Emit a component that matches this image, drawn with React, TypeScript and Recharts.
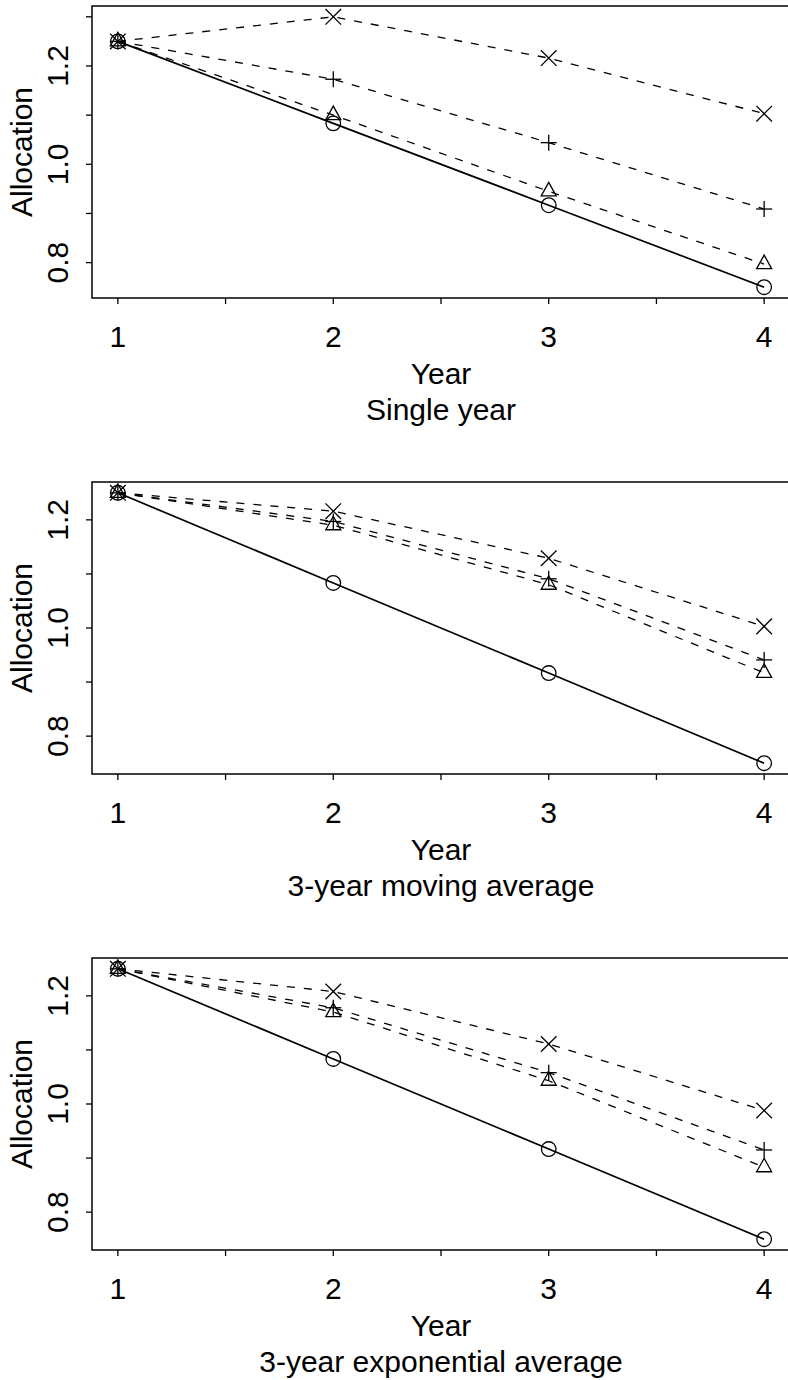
import React from 'react';
import { LineChart, Line, XAxis, YAxis, ReferenceArea } from 'recharts';

// ---- data ----
const years = [1, 2, 3, 4];
const xTicks = [1, 1.5, 2, 2.5, 3, 3.5, 4];
const xTickLabels = ['1', '2', '3', '4'];

const singleCircle = [1.25, 1.0833, 0.9167, 0.75];
const singleTriangle = [1.25, 1.1, 0.945, 0.797];
const singlePlus = [1.25, 1.173, 1.044, 0.909];
const singleCross = [1.25, 1.3, 1.216, 1.103];

const movingCircle = [1.25, 1.0833, 0.9167, 0.75];
const movingTriangle = [1.25, 1.19, 1.08, 0.917];
const movingPlus = [1.25, 1.197, 1.091, 0.941];
const movingCross = [1.25, 1.216, 1.129, 1.003];

const expCircle = [1.25, 1.0833, 0.9167, 0.75];
const expTriangle = [1.25, 1.17, 1.043, 0.883];
const expPlus = [1.25, 1.178, 1.058, 0.915];
const expCross = [1.25, 1.208, 1.111, 0.988];

const yTicksSingle = [0.8, 0.9, 1.0, 1.1, 1.2, 1.3];
const yTicksAvg = [0.8, 0.9, 1.0, 1.1, 1.2];
const yLabeled = ['0.8', '1.0', '1.2'];

const xTitle = 'Year';
const yTitle = 'Allocation';
const panelTitles = ['Single year', '3-year moving average', '3-year exponential average'];

// ---- layout / style ----
const FONT = '"Liberation Sans", Arial, Helvetica, sans-serif';
const CHART_W = 800;
const CHART_H = 476;
const PLOT_TOP = 6;
const PLOT_H = 292;
const PLOT_LEFT = 92;
const PLOT_RIGHT = 790;
const PLOT_BOTTOM = PLOT_TOP + PLOT_H;
const XAXIS_H = 40;
const YAXIS_W = 60;

const buildRows = (c: number[], t: number[], p: number[], x: number[]) =>
  years.map((yr, i) => ({ year: yr, circle: c[i], triangle: t[i], plus: p[i], cross: x[i] }));

const padRange = (vals: number[]): [number, number] => {
  const lo = Math.min(...vals);
  const hi = Math.max(...vals);
  const d = (hi - lo) * 0.04;
  return [lo - d, hi + d];
};

const SW = 1.3;

const Marker = ({ shape, cx, cy }: { shape: string; cx: number; cy: number }) => {
  if (cx == null || cy == null) return <g />;
  if (shape === 'circle') {
    return <circle cx={cx} cy={cy} r={7.3} fill="none" stroke="#000" strokeWidth={SW} />;
  }
  if (shape === 'triangle') {
    const pts = `${cx},${cy - 9} ${cx + 7.5},${cy + 4.5} ${cx - 7.5},${cy + 4.5}`;
    return <polygon points={pts} fill="none" stroke="#000" strokeWidth={SW} />;
  }
  if (shape === 'plus') {
    return (
      <g stroke="#000" strokeWidth={SW}>
        <line x1={cx - 8} y1={cy} x2={cx + 8} y2={cy} />
        <line x1={cx} y1={cy - 8} x2={cx} y2={cy + 8} />
      </g>
    );
  }
  return (
    <g stroke="#000" strokeWidth={SW}>
      <line x1={cx - 7.8} y1={cy - 7.8} x2={cx + 7.8} y2={cy + 7.8} />
      <line x1={cx - 7.8} y1={cy + 7.8} x2={cx + 7.8} y2={cy - 7.8} />
    </g>
  );
};

const makeDot = (shape: string) => (props: any) => (
  <g key={`${shape}-${props.index}`}>
    <Marker shape={shape} cx={props.cx} cy={props.cy} />
  </g>
);

const XTick = (props: any) => {
  const { x, payload } = props;
  const v = payload.value;
  const label = Number.isInteger(v) ? String(v) : '';
  if (!xTickLabels.includes(label)) return <g />;
  return (
    <text x={x} y={PLOT_BOTTOM + 49} textAnchor="middle" fontFamily={FONT} fontSize={30} fill="#000">
      {label}
    </text>
  );
};

const YTick = (props: any) => {
  const { y, payload } = props;
  const label = Number(payload.value).toFixed(1);
  if (!yLabeled.includes(label)) return <g />;
  const ax = 68;
  return (
    <text
      x={ax}
      y={y}
      transform={`rotate(-90, ${ax}, ${y})`}
      textAnchor="middle"
      fontFamily={FONT}
      fontSize={30}
      fill="#000"
    >
      {label}
    </text>
  );
};

const Panel = ({ rows, yTicks, title, top }: { rows: any[]; yTicks: number[]; title: string; top: number }) => {
  const allVals = rows.flatMap((r) => [r.circle, r.triangle, r.plus, r.cross]);
  const yDomain = padRange(allVals);
  const xDomain = padRange(years);
  const midX = (PLOT_LEFT + PLOT_RIGHT) / 2;
  const midY = PLOT_TOP + PLOT_H / 2;
  return (
    <div style={{ position: 'absolute', left: 0, top }}>
      <LineChart
        width={CHART_W}
        height={CHART_H}
        data={rows}
        margin={{ top: PLOT_TOP, right: CHART_W - PLOT_RIGHT, left: PLOT_LEFT - YAXIS_W, bottom: CHART_H - PLOT_BOTTOM - XAXIS_H }}
      >
        <XAxis
          dataKey="year"
          type="number"
          domain={xDomain}
          ticks={xTicks}
          allowDataOverflow
          height={XAXIS_H}
          axisLine={false}
          tickLine={{ stroke: '#000', strokeWidth: 1.3 }}
          tickSize={6}
          tick={<XTick />}
          interval={0}
          label={{
            content: () => (
              <g>
                <text x={midX} y={PLOT_BOTTOM + 85.5} textAnchor="middle" fontFamily={FONT} fontSize={30} fill="#000">
                  {xTitle}
                </text>
                <text x={midX} y={PLOT_BOTTOM + 122} textAnchor="middle" fontFamily={FONT} fontSize={30} fill="#000">
                  {title}
                </text>
              </g>
            ),
          }}
        />
        <YAxis
          type="number"
          domain={yDomain}
          ticks={yTicks}
          allowDataOverflow
          width={YAXIS_W}
          axisLine={false}
          tickLine={{ stroke: '#000', strokeWidth: 1.3 }}
          tickSize={6}
          tick={<YTick />}
          interval={0}
          label={{
            content: () => (
              <text
                x={32}
                y={midY}
                transform={`rotate(-90, 32, ${midY})`}
                textAnchor="middle"
                fontFamily={FONT}
                fontSize={30}
                fill="#000"
              >
                {yTitle}
              </text>
            ),
          }}
        />
        <ReferenceArea
          x1={xDomain[0]}
          x2={xDomain[1]}
          y1={yDomain[0]}
          y2={yDomain[1]}
          fill="none"
          stroke="#000"
          strokeWidth={1.5}
          ifOverflow="visible"
        />
        <Line dataKey="circle" stroke="#000" strokeWidth={1.7} dot={makeDot('circle')} isAnimationActive={false} />
        <Line dataKey="triangle" stroke="#000" strokeWidth={1.3} strokeDasharray="8 9" dot={makeDot('triangle')} isAnimationActive={false} />
        <Line dataKey="plus" stroke="#000" strokeWidth={1.3} strokeDasharray="8 9" dot={makeDot('plus')} isAnimationActive={false} />
        <Line dataKey="cross" stroke="#000" strokeWidth={1.3} strokeDasharray="8 9" dot={makeDot('cross')} isAnimationActive={false} />
      </LineChart>
    </div>
  );
};

export default function App() {
  const panels = [
    { rows: buildRows(singleCircle, singleTriangle, singlePlus, singleCross), yTicks: yTicksSingle },
    { rows: buildRows(movingCircle, movingTriangle, movingPlus, movingCross), yTicks: yTicksAvg },
    { rows: buildRows(expCircle, expTriangle, expPlus, expCross), yTicks: yTicksAvg },
  ];
  return (
    <div
      style={{
        position: 'absolute',
        left: 0,
        top: 0,
        width: 788,
        height: 1380,
        overflow: 'hidden',
        background: '#fff',
      }}
    >
      {panels.map((p, i) => (
        <Panel key={i} rows={p.rows} yTicks={p.yTicks} title={panelTitles[i]} top={i * 476} />
      ))}
    </div>
  );
}
